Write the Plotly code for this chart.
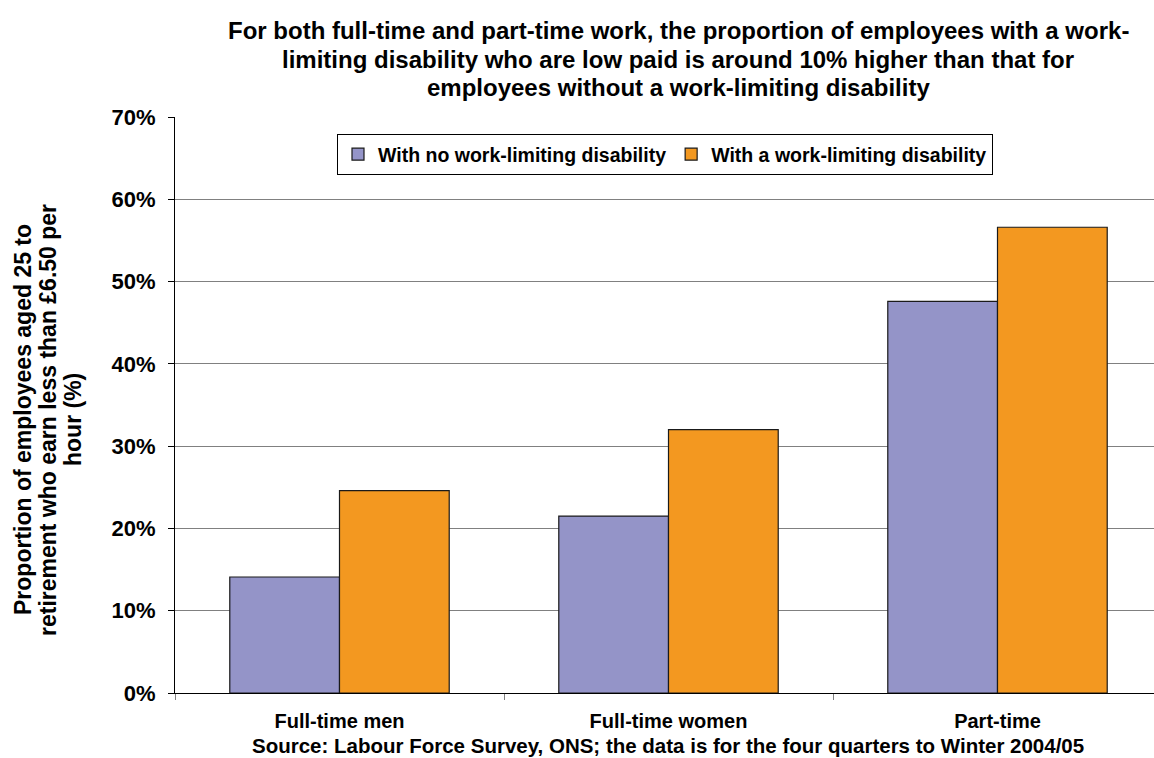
import plotly.graph_objects as go

categories = ["Full-time men", "Full-time women", "Part-time"]
no_disability = [14.1, 21.5, 47.6]
with_disability = [24.6, 32.0, 56.6]
y_ticks = [0, 10, 20, 30, 40, 50, 60, 70]
y_tick_labels = ["0%", "10%", "20%", "30%", "40%", "50%", "60%", "70%"]
series_names = ["With no work-limiting disability", "With a work-limiting disability"]
title_lines = [
    "For both full-time and part-time work, the proportion of employees with a work-",
    "limiting disability who are low paid is around 10% higher than that for",
    "employees without a work-limiting disability",
]
ytitle_lines = [
    "Proportion of employees aged 25 to",
    "retirement who earn less than £6.50 per",
    "hour (%)",
]
source_note = "Source: Labour Force Survey, ONS; the data is for the four quarters to Winter 2004/05"

FONT = "Liberation Sans, Arial, sans-serif"

fig = go.Figure()
fig.add_trace(go.Bar(
    x=categories, y=no_disability, name="<b>%s</b>" % series_names[0],
    marker=dict(color="#9494C8", line=dict(color="#1a1a1a", width=1.2)),
))
fig.add_trace(go.Bar(
    x=categories, y=with_disability, name="<b>%s</b>" % series_names[1],
    marker=dict(color="#F39820", line=dict(color="#1a1a1a", width=1.2)),
))

W, H = 1154, 758
L, R, T, B = 175, 0, 117, 65
pw = W - L - R
ph = H - T - B


def px_x(x):
    return (x - L) / pw


def px_y(y):
    return (H - B - y) / ph


fig.update_layout(
    width=W, height=H,
    margin=dict(l=L, r=R, t=T, b=B),
    paper_bgcolor="white", plot_bgcolor="white",
    barmode="group", bargap=0.333, bargroupgap=0,
    font=dict(family=FONT, color="black"),
    showlegend=True,
    legend=dict(
        orientation="h", x=px_x(337), y=px_y(134), xanchor="left", yanchor="top",
        bordercolor="black", borderwidth=1, bgcolor="white",
        font=dict(family=FONT, size=19.5, color="black"),
        itemwidth=30, tracegroupgap=0, traceorder="normal",
    ),
)

fig.update_xaxes(
    range=[-0.5, 2.5 - 8 / 329],
    tickvals=categories, ticktext=["<b>%s</b>" % c for c in categories],
    showline=True, linecolor="black", linewidth=1,
    ticks="outside", tickson="boundaries", ticklen=6, tickcolor="#808080",
    ticklabelstandoff=10,
    tickfont=dict(family=FONT, size=20, color="black"),
    showgrid=False, zeroline=False,
)
fig.update_yaxes(
    range=[0, 70],
    tickvals=y_ticks, ticktext=["<b>%s</b>" % t for t in y_tick_labels],
    showline=True, linecolor="black", linewidth=1,
    ticks="outside", ticklen=6, tickcolor="black",
    ticklabelstandoff=8,
    tickfont=dict(family=FONT, size=22, color="black"),
    showgrid=True, gridcolor="#808080", gridwidth=1.2,
    zeroline=False,
)

# chart title, one annotation per line for tight spacing
for i, line in enumerate(title_lines):
    fig.add_annotation(
        xref="paper", yref="paper", x=px_x(678), y=px_y(31 + 28 * i),
        xanchor="center", yanchor="middle", showarrow=False,
        text="<b>%s</b>" % line,
        font=dict(family=FONT, size=24, color="black"),
    )

# y-axis title, rotated, one annotation per line
for i, line in enumerate(ytitle_lines):
    fig.add_annotation(
        xref="paper", yref="paper", x=px_x(23 + 25 * i), y=px_y(420),
        xanchor="center", yanchor="middle", showarrow=False, textangle=-90,
        text="<b>%s</b>" % line,
        font=dict(family=FONT, size=23, color="black"),
    )

# source note
fig.add_annotation(
    xref="paper", yref="paper", x=px_x(668), y=px_y(745),
    xanchor="center", yanchor="middle", showarrow=False,
    text="<b>%s</b>" % source_note,
    font=dict(family=FONT, size=20.5, color="black"),
)

fig.write_html("out.html")
